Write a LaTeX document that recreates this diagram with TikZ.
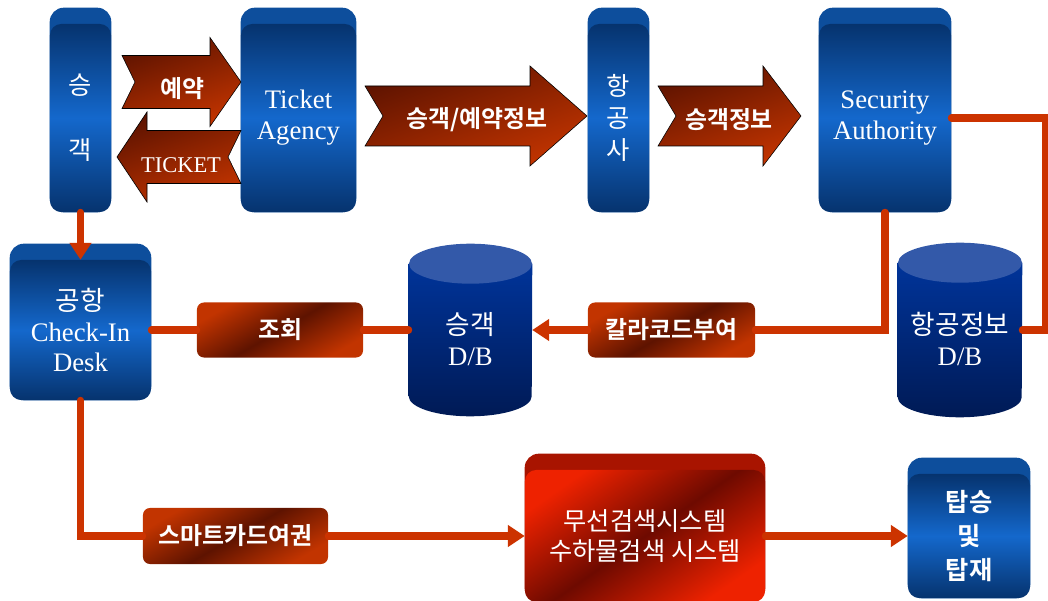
\documentclass[tikz,border=0pt]{standalone}
\usepackage{fontspec}
\setmainfont{Liberation Serif}
\newfontfamily\kr[BoldFont={Noto Sans CJK KR Bold}]{Noto Sans CJK KR}
\usetikzlibrary{arrows.meta,backgrounds,calc}

\definecolor{LineRed}{HTML}{CC3300}
\definecolor{BoxDark}{HTML}{06336E}
\definecolor{BoxMid}{HTML}{1468CC}
\definecolor{BoxTop}{HTML}{0D4E9C}
\definecolor{ArrDark}{HTML}{5E1300}
\definecolor{ArrLight}{HTML}{C23400}
\definecolor{DBBody}{HTML}{00349A}
\definecolor{DBDeep}{HTML}{001A55}
\definecolor{DBLid}{HTML}{3359A9}
\definecolor{ScanRed}{HTML}{EE2200}
\definecolor{ScanDark}{HTML}{6E0A00}
\definecolor{ScanTop}{HTML}{A81400}

\begin{document}
\begin{tikzpicture}[x=0.025cm,y=0.025cm,
  box/.style={rounded corners=8pt, top color=BoxDark, bottom color=BoxDark, middle color=BoxMid,
    text=white, align=center, inner sep=0pt, font=\fontsize{19}{22}\selectfont},
  krbox/.style={box, font=\kr\fontsize{18}{23}\selectfont},
  db/.style={text=white, align=center, inner sep=0pt, font=\fontsize{19}{22}\selectfont},
  tag/.style={rounded corners=5pt, top color=ArrLight, bottom color=ArrLight, middle color=ArrDark,
    shading angle=30, text=white, inner sep=0pt, font=\kr\bfseries\fontsize{17}{20}\selectfont},
  fatarrow/.style={top color=ArrDark, bottom color=ArrLight, shading angle=20},
  arrowtext/.style={text=white, font=\kr\bfseries\fontsize{17}{20}\selectfont},
  link/.style={LineRed, line width=5pt, line cap=round},
  tip/.style={-{Triangle[width=15pt,length=12pt]}}]
  \useasboundingbox (0,0) rectangle (1048,600);

  % top row
  \node[krbox, minimum width=1.525cm, minimum height=4.7cm] (pax) at (80.5,482) {승\\[23pt]객};
  \node[box, minimum width=2.875cm, minimum height=4.7cm] (agency) at (298.5,482) {Ticket\\Agency};
  \node[krbox, minimum width=1.525cm, minimum height=4.7cm] (air) at (618.5,482) {항\\공\\사};
  \node[box, minimum width=3.3cm, minimum height=4.7cm] (sec) at (885,482) {Security\\Authority};

  % middle row
  \node[box, minimum width=3.525cm, minimum height=3.5cm] (desk) at (80.5,270) {{\kr 공항}\\Check-In\\Desk};
  \node[tag, minimum width=4.15cm, minimum height=1.375cm] (query) at (280,270) {조회};
  \node[db, minimum width=3.075cm, minimum height=3.3cm] (paxdb) at (470.5,270) {\rule{0pt}{28pt}{\kr 승객}\\D/B};
  \node[tag, minimum width=4.175cm, minimum height=1.375cm] (color) at (671.5,270) {칼라코드부여};
  \node[db, minimum width=3.1cm, minimum height=3.35cm] (airdb) at (960,270) {\rule{0pt}{28pt}{\kr 항공정보}\\D/B};
  \coordinate (rim) at (1046,270);

  % bottom row
  \node[tag, minimum width=4.625cm, minimum height=1.4cm] (smart) at (235.5,64) {스마트카드여권};
  \node[rounded corners=8pt, top color=ScanRed, bottom color=ScanRed, middle color=ScanDark, shading angle=35,
    text=white, align=center, inner sep=0pt, font=\kr\fontsize{18}{22}\selectfont,
    minimum width=6cm, minimum height=3.3cm] (scan) at (645,64) {무선검색시스템\\수하물검색 시스템};
  \node[box, font=\kr\bfseries\fontsize{18}{24}\selectfont, minimum width=3.05cm, minimum height=3.1cm] (board) at (969,64) {탑승\\및\\탑재};

  % block arrows
  \draw[fatarrow] (122,544.5) -- (210,544.5) -- (210,562.5) -- (241,518) -- (210,473.5) -- (210,491.5) -- (122,491.5) -- (135,518) -- cycle;
  \draw[fatarrow] (241,469.5) -- (147,469.5) -- (147,488) -- (117,443) -- (147,398) -- (147,416.5) -- (241,416.5) -- (228,443) -- cycle;
  \foreach \a/\b/\c in {365/530/587, 658/763/801}
    \draw[fatarrow] (\a,514) -- (\b,514) -- (\b,534) -- (\c,484) -- (\b,434) -- (\b,454) -- (\a,454) -- ({\a+18},484) -- cycle;
  \node[arrowtext] (resv) at (182,511) {예약};
  \node[text=white, font=\fontsize{16}{18}\selectfont] (ticket) at (181,435) {TICKET};
  \node[arrowtext] (paxres) at (477,480) {승객/예약정보};
  \node[arrowtext] (paxinfo) at (729,480) {승객정보};

  % bevels and cylinders behind
  \begin{scope}[on background layer]
    \foreach \n/\c in {pax/BoxTop, agency/BoxTop, air/BoxTop, sec/BoxTop, desk/BoxTop, board/BoxTop, scan/ScanTop}
      \fill[\c, rounded corners=10pt] ([yshift=0.4cm]\n.north west) rectangle (\n.south east);
    \foreach \n/\r in {paxdb/61.5, airdb/62} {
      \shade[top color=DBBody, bottom color=DBDeep] (\n.north west) -- (\n.south west)
        arc[start angle=180, end angle=360, x radius=\r, y radius=20] -- (\n.north east) -- cycle;
      \fill[DBLid] (\n.north) ellipse[x radius=\r, y radius=20];
    }
  \end{scope}

  % connectors
  \draw[link, tip] (pax.south) -- (desk.north);
  \draw[link] (desk.east) -- (query.west);
  \draw[link] (query.east) -- (paxdb.west);
  \draw[link] (sec.south) |- (color.east);
  \draw[link, tip] (color.west) -- (paxdb.east);
  \draw[link] (sec.east) -| (rim) -- (airdb.east);
  \draw[link] (desk.south) |- (smart.west);
  \draw[link, tip] (smart.east) -- (scan.west);
  \draw[link, tip] (scan.east) -- (board.west);
\end{tikzpicture}
\end{document}
